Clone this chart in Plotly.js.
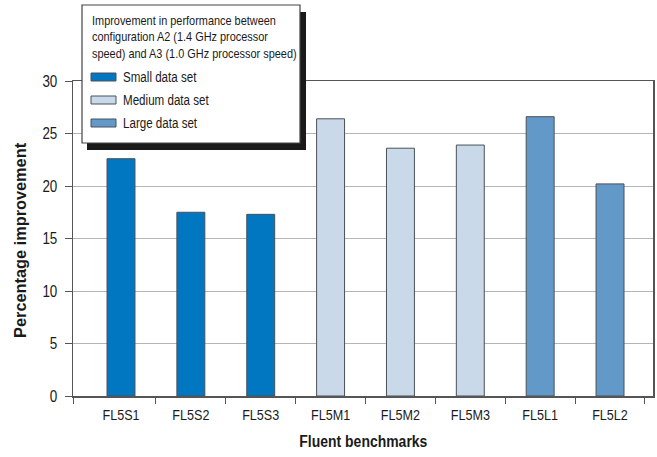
<!DOCTYPE html>
<html>
<head>
<meta charset="utf-8">
<script src="https://cdn.plot.ly/plotly-3.0.1.min.js"></script>
<style>html,body{margin:0;padding:0;background:#fff;}#chart{width:657px;height:457px;}</style>
</head>
<body>
<div id="chart"></div>
<script>
// ---- data ----
const categories = ['FL5S1','FL5S2','FL5S3','FL5M1','FL5M2','FL5M3','FL5L1','FL5L2'];
const values = [22.6, 17.5, 17.3, 26.4, 23.6, 23.9, 26.6, 20.2];
const groupNames = ['Small data set','Medium data set','Large data set'];
const groupOf = [0,0,0,1,1,1,2,2];
const groupColors = ['#0077c0','#c9d9ea','#6399c8'];
const legendTitleLines = ['Improvement in performance between',
  'configuration A2 (1.4 GHz processor',
  'speed) and A3 (1.0 GHz processor speed)'];
const yTicks = [0,5,10,15,20,25,30];
const xTitle = 'Fluent benchmarks';
const yTitle = 'Percentage improvement';

// ---- layout geometry (pixels) ----
const W = 657, H = 457;
const L = 73, R = 4, T = 81, B = 61;
const pw = W - L - R, ph = H - T - B;
const px = x => (x - L) / pw;           // pixel x -> paper
const py = y => (H - B - y) / ph;       // pixel y -> paper

const FONT = '"Liberation Sans", Arial, sans-serif';
const xs = categories.map((c,i)=>i);

const trace = {
  type: 'bar',
  x: xs,
  y: values,
  width: 0.40,
  marker: {
    color: groupOf.map(g => groupColors[g]),
    line: {color: '#4a5058', width: 1}
  },
  showlegend: false,
  hoverinfo: 'x+y'
};

const x0 = -0.687, x1 = 7.615;

const shapes = [];
shapes.push({type:'rect', xref:'paper', yref:'paper', layer:'above',
  x0: px(87), x1: px(306), y0: py(12), y1: py(150),
  fillcolor:'#1a1a1a', line:{width:0}});
shapes.push({type:'rect', xref:'paper', yref:'paper', layer:'above',
  x0: px(82), x1: px(300), y0: py(5), y1: py(143),
  fillcolor:'#ffffff', line:{color:'#444', width:1.2}});

const leftTexts = new Set();
const annotations = [];
legendTitleLines.forEach((t,i)=>{
  leftTexts.add(t);
  annotations.push({xref:'paper', yref:'paper', x: px(90), y: py(20 + i*16.5),
    xanchor:'left', yanchor:'middle', showarrow:false, text:t,
    font:{family:FONT, size:13, color:'#1a1a1a'}});
});
groupNames.forEach((g,i)=>{
  leftTexts.add(g);
  const cy = 77 + i*23;
  shapes.push({type:'rect', xref:'paper', yref:'paper', layer:'above',
    x0: px(91), x1: px(116), y0: py(cy-4), y1: py(cy+4),
    fillcolor: groupColors[i], line:{color:'#4a5058', width:1}});
  annotations.push({xref:'paper', yref:'paper', x: px(121), y: py(cy),
    xanchor:'left', yanchor:'middle', showarrow:false, text:g,
    font:{family:FONT, size:13.8, color:'#1a1a1a'}});
});
annotations.push({xref:'paper', yref:'paper', x: px(364), y: py(441),
  xanchor:'center', yanchor:'middle', showarrow:false, text:'<b>'+xTitle+'</b>',
  font:{family:FONT, size:16, color:'#1a1a1a'}});
annotations.push({xref:'paper', yref:'paper', x: px(20), y: py(240),
  xanchor:'center', yanchor:'middle', showarrow:false, textangle:-90,
  text:'<b>'+yTitle+'</b>',
  font:{family:FONT, size:16, color:'#1a1a1a'}});

const layout = {
  width: W, height: H,
  margin: {l:L, r:R, t:T, b:B, pad:0},
  paper_bgcolor:'#fff', plot_bgcolor:'#fff',
  font: {family: FONT, size: 14, color:'#1a1a1a'},
  xaxis: {
    range: [x0, x1],
    tickmode: 'array', tickvals: xs, ticktext: categories,
    ticks: '', showgrid: false, zeroline: false,
    showline: true, linecolor:'#555', linewidth: 1.5, mirror: true,
    tickfont: {family: FONT, size: 15, color:'#1a1a1a'},
    ticklabelstandoff: 4,
    minor: {tickmode:'array', tickvals:[x0,0.5,1.5,2.5,3.5,4.5,5.5,6.5,7.5],
      ticks:'outside', ticklen:6, tickcolor:'#555', tickwidth:1, showgrid:false},
    fixedrange: true
  },
  yaxis: {
    range: [0, 30],
    tickmode: 'array', tickvals: yTicks,
    ticks: 'outside', ticklen: 7, tickcolor:'#555', tickwidth: 1,
    showgrid: true, gridcolor:'#b5b5b5', gridwidth: 1,
    zeroline: false,
    showline: true, linecolor:'#555', linewidth: 1.5, mirror: true,
    tickfont: {family: FONT, size: 16, color:'#1a1a1a'},
    ticklabelstandoff: 4,
    fixedrange: true
  },
  shapes: shapes,
  annotations: annotations,
  bargap: 0.6
};

// simulate a condensed face by compressing text horizontally
function condense(gd){
  const targets = {};
  targets[xTitle] = 128;
  targets[yTitle] = 195;
  gd.querySelectorAll('svg text').forEach(t=>{
    const s = t.textContent;
    if(!s) return;
    const before = t.getBBox();
    const len = t.getComputedTextLength();
    const w = (s in targets) ? targets[s] : len*0.84;
    t.setAttribute('textLength', w.toFixed(1));
    t.setAttribute('lengthAdjust', 'spacingAndGlyphs');
    if(leftTexts.has(s)){
      const after = t.getBBox();
      const dx = before.x - after.x;
      const x = parseFloat(t.getAttribute('x') || '0');
      t.setAttribute('x', (x + dx).toFixed(2));
    }
  });
}

Plotly.newPlot('chart', [trace], layout, {displayModeBar:false, staticPlot:true})
  .then(gd => condense(gd));
</script>
</body>
</html>
